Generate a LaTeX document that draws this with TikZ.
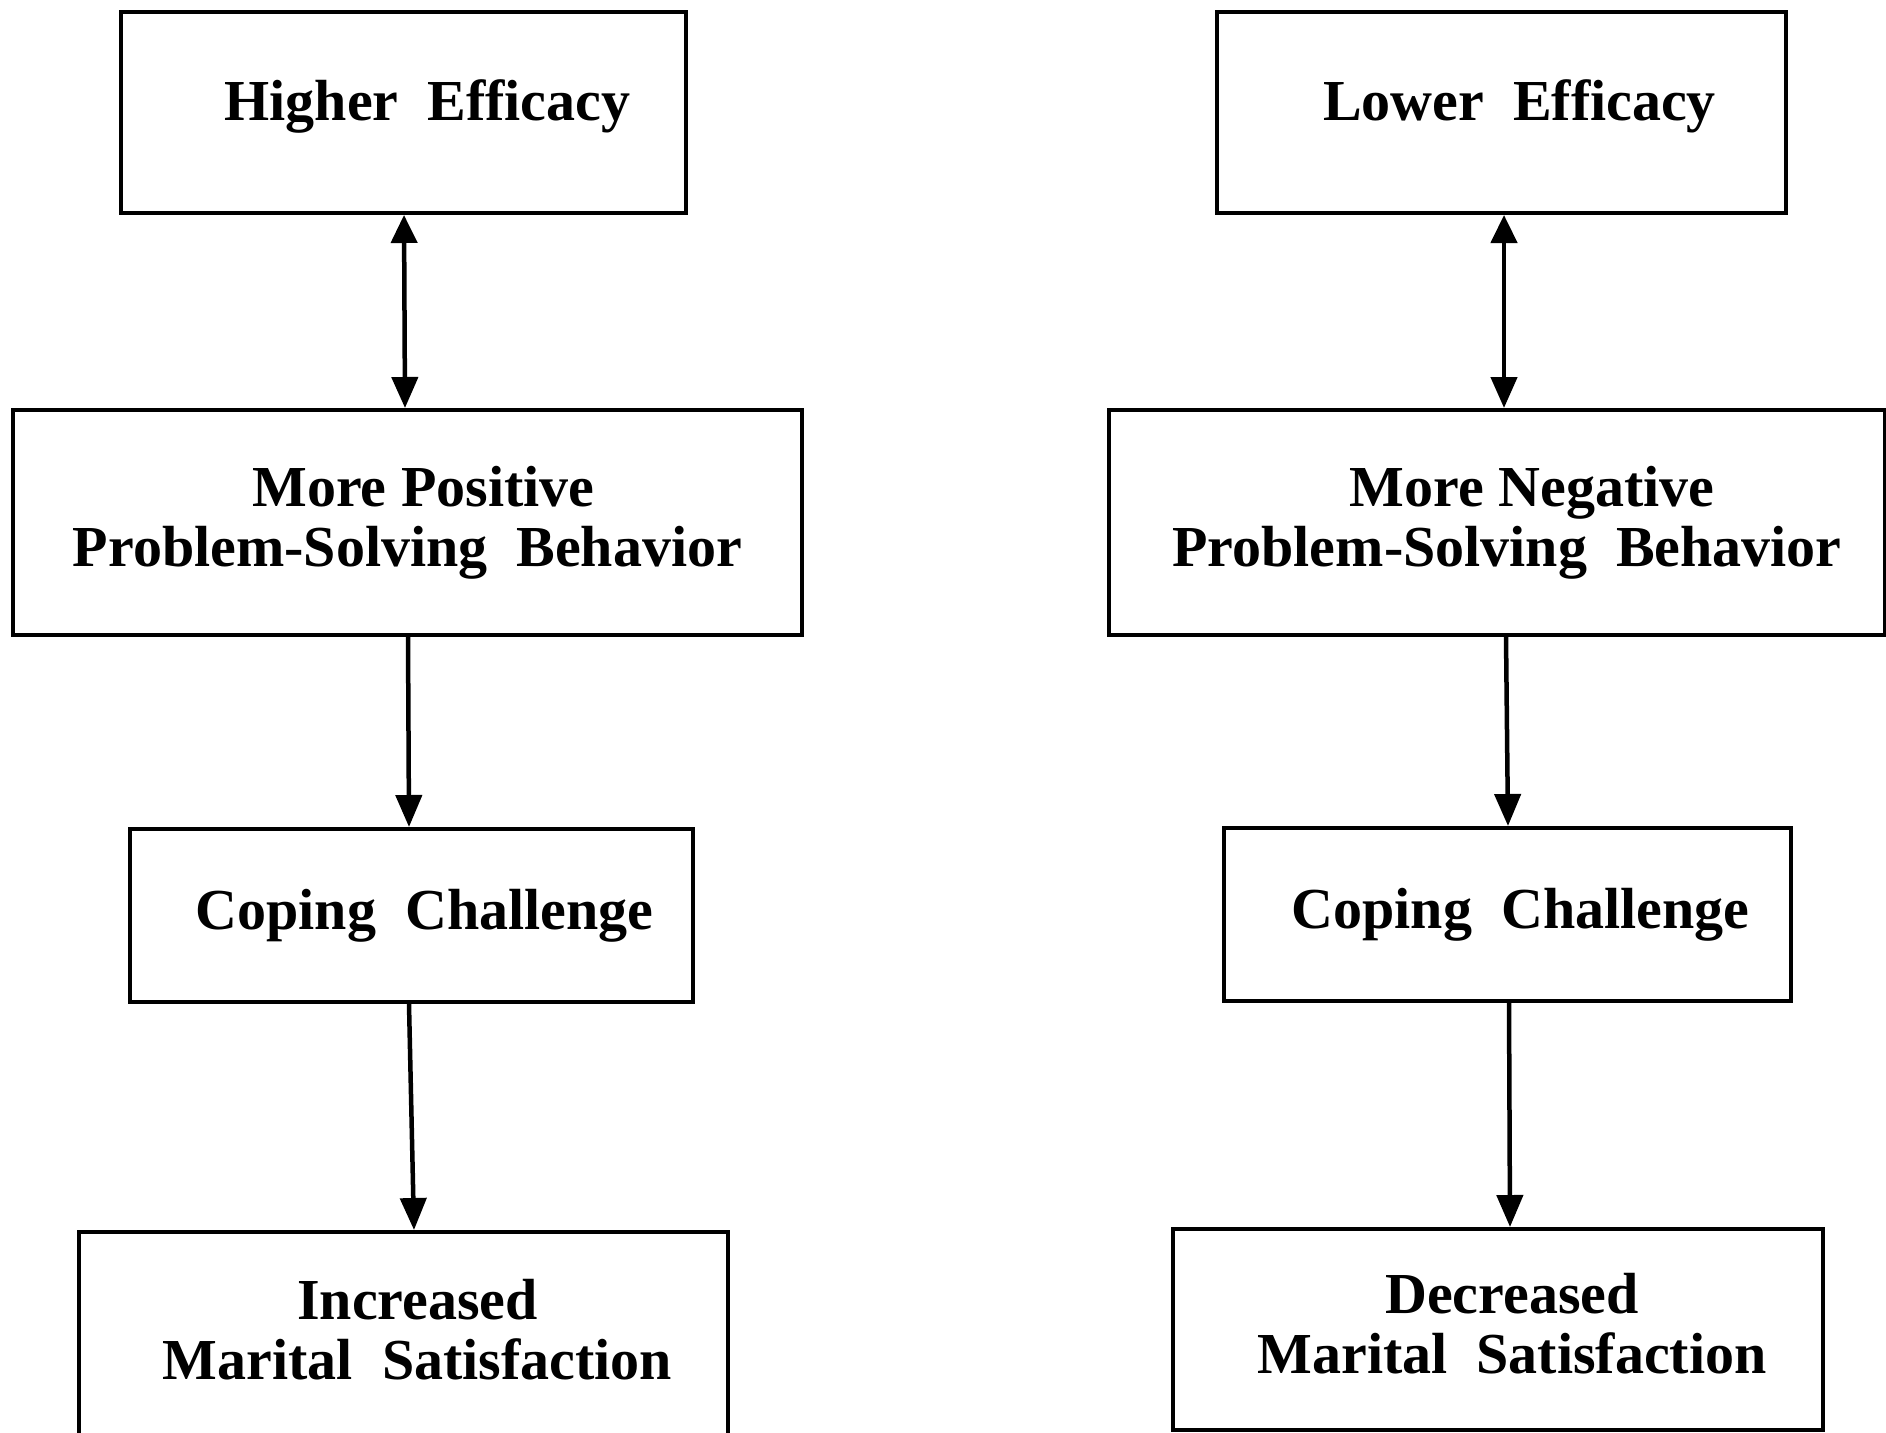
\documentclass[tikz,border=0pt]{standalone}
\usepackage{fontspec}
\setmainfont{Liberation Serif}
\usetikzlibrary{arrows.meta}
\begin{document}
\begin{tikzpicture}[x=1pt,y=-1pt,
  box/.style={draw=black, line width=4pt, inner sep=0pt, align=center,
    font=\fontsize{58}{60}\selectfont\bfseries},
  arr/.style={line width=4.5pt, -{Triangle[length=32pt,width=26pt]}},
  darr/.style={line width=4.5pt, {Triangle[length=28pt,width=26pt]}-{Triangle[length=31pt,width=26pt]}}]
\useasboundingbox (0,0) rectangle (1886,1432);
% left column
\node[box, minimum width=565pt, minimum height=201pt, text depth=25pt] (he) at (403.5,112.5) {\hspace*{48pt}Higher\ \ Efficacy};
\node[box, minimum width=789pt, minimum height=225pt] (mp) at (407.5,522.5) {\hspace*{32pt}More Positive\\Problem-Solving\ \ Behavior};
\node[box, minimum width=563pt, minimum height=173pt] (cl) at (411.5,915.5) {\hspace*{26pt}Coping\ \ Challenge};
\node[box, minimum width=649pt, minimum height=206pt, text depth=12pt] (im) at (403.5,1335) {\hspace*{28pt}Increased\\\hspace*{28pt}Marital\ \ Satisfaction};
% right column
\node[box, minimum width=569pt, minimum height=201pt, text depth=25pt] (le) at (1501.5,112.5) {\hspace*{36pt}Lower\ \ Efficacy};
\node[box, minimum width=776pt, minimum height=225pt] (mn) at (1497,522.5) {\hspace*{70pt}More Negative\\\hspace*{20pt}Problem-Solving\ \ Behavior};
\node[box, minimum width=567pt, minimum height=173pt] (cr) at (1507.5,914.5) {\hspace*{26pt}Coping\ \ Challenge};
\node[box, minimum width=650pt, minimum height=201pt, text depth=12pt] (dm) at (1498,1329.5) {\hspace*{28pt}Decreased\\\hspace*{28pt}Marital\ \ Satisfaction};
% connectors
\draw[darr] ([xshift=0.5pt]he.south) -- ([xshift=-2.5pt]mp.north);
\draw[arr] ([xshift=0.5pt]mp.south) -- ([xshift=-2.5pt]cl.north);
\draw[arr] ([xshift=-2.5pt]cl.south) -- ([xshift=10.5pt]im.north);
\draw[darr] ([xshift=2.5pt]le.south) -- ([xshift=7pt]mn.north);
\draw[arr] ([xshift=9pt]mn.south) -- ([xshift=0.5pt]cr.north);
\draw[arr] ([xshift=1.5pt]cr.south) -- ([xshift=12pt]dm.north);
\end{tikzpicture}
\end{document}
